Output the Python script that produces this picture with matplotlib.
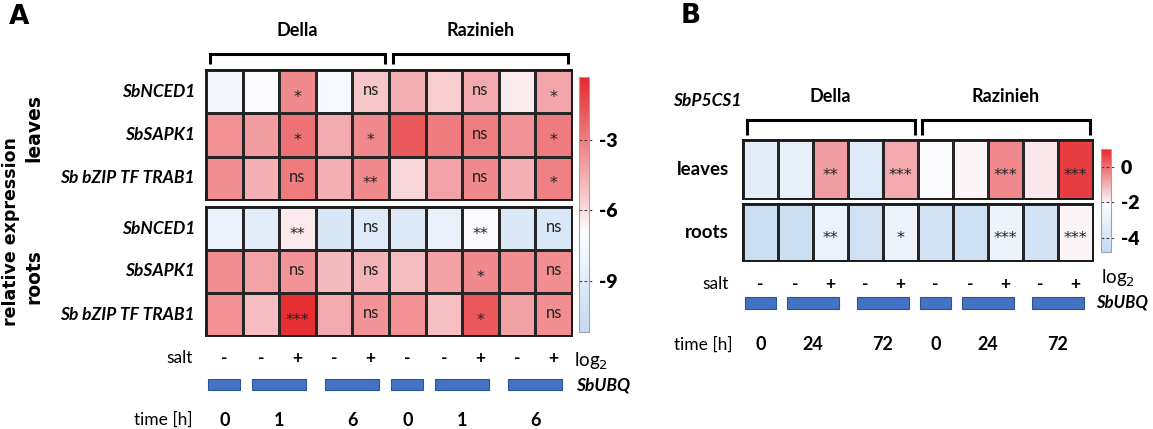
import numpy as np
import matplotlib
matplotlib.use('Agg')
import matplotlib.pyplot as plt
from matplotlib.colors import LinearSegmentedColormap, Normalize
from matplotlib.cm import ScalarMappable
from matplotlib.transforms import blended_transform_factory

plt.rcParams['font.family'] = ['Lato', 'DejaVu Sans']
plt.rcParams['axes.unicode_minus'] = False

# ---- data (log2 relative expression) ----
cultivars = ['Della', 'Razinieh']
genes_a = ['SbNCED1', 'SbSAPK1', 'Sb bZIP TF TRAB1']
salt = ['-', '-', '+', '-', '+', '-', '-', '+', '-', '+']
group_sizes = [1, 2, 2, 1, 2, 2]
time_a = ['0', '1', '6', '0', '1', '6']
time_b = ['0', '24', '72', '0', '24', '72']

a_leaves = np.array([
    [-7.6, -7.0, -3.4, -7.5, -5.3, -4.6, -5.5, -4.4, -6.4, -4.3],
    [-3.6, -4.0, -2.6, -4.4, -3.4, -1.8, -2.9, -3.0, -3.7, -2.9],
    [-3.5, -4.6, -2.9, -4.6, -3.4, -5.8, -4.2, -3.4, -4.6, -3.1],
])
a_roots = np.array([
    [-8.2, -8.8, -6.4, -9.6, -9.2, -9.3, -8.4, -7.1, -9.4, -9.5],
    [-3.5, -4.2, -3.7, -4.9, -4.7, -5.0, -4.1, -3.4, -3.5, -3.5],
    [-3.6, -5.0, -0.5, -4.4, -3.7, -3.6, -5.1, -1.8, -4.1, -3.5],
])
a_leaves_sig = [
    ['', '', '*', '', 'ns', '', '', 'ns', '', '*'],
    ['', '', '*', '', '*', '', '', 'ns', '', '*'],
    ['', '', 'ns', '', '**', '', '', 'ns', '', '*'],
]
a_roots_sig = [
    ['', '', '**', '', 'ns', '', '', '**', '', 'ns'],
    ['', '', 'ns', '', 'ns', '', '', '*', '', 'ns'],
    ['', '', '***', '', 'ns', '', '', '*', '', 'ns'],
]

b_leaves = np.array([[-3.3, -3.1, -0.7, -3.5, -0.9, -2.1, -2.0, -0.4, -1.8, 0.7]])
b_roots = np.array([[-4.5, -4.4, -2.9, -4.2, -2.8, -4.1, -4.3, -2.8, -4.1, -2.0]])
b_leaves_sig = [['', '', '**', '', '***', '', '', '***', '', '***']]
b_roots_sig = [['', '', '**', '', '*', '', '', '***', '', '***']]

# ---- layout helpers (figure pixels) ----
W, H = 1153, 429
fig = plt.figure(figsize=(W / 100, H / 100), dpi=100)


def box(l, t, r, b):
    return [l / W, 1 - b / H, (r - l) / W, (b - t) / H]


def fy(y):
    return 1 - y / H


BLUE, WHITE, RED = '#C3DAF0', '#FCFCFF', '#E6292D'


def make_cmap(vmin, vmid, vmax):
    p = (vmid - vmin) / (vmax - vmin)
    return LinearSegmentedColormap.from_list('c', [(0, BLUE), (p, WHITE), (1, RED)])


def heat(ax, vals, sig, cmap, norm):
    nr, nc = vals.shape
    ax.pcolormesh(np.arange(nc + 1), np.arange(nr + 1), vals, cmap=cmap, norm=norm,
                  edgecolors='#262626', linewidth=0.9)
    ax.set_xlim(0, nc)
    ax.set_ylim(nr, 0)
    ax.set_xticks([])
    ax.set_yticks([])
    for s in ax.spines.values():
        s.set_linewidth(1.4)
        s.set_color('#1a1a1a')
    for r in range(nr):
        for c in range(nc):
            s = sig[r][c]
            if not s:
                continue
            if '*' in s:
                ax.annotate(s, (c + 0.5, r + 0.5), xytext=(0, -4), textcoords='offset points',
                            ha='center', va='center', fontsize=11.5, color='#222222',
                            family='DejaVu Sans')
            else:
                ax.annotate(s, (c + 0.5, r + 0.5), xytext=(0, 1), textcoords='offset points',
                            ha='center', va='center', fontsize=12, color='#222222')


def brackets(ax, y_top, y_tip):
    tr = blended_transform_factory(ax.transData, fig.transFigure)
    for i, name in enumerate(cultivars):
        x0, x1 = i * 5 + 0.12, i * 5 + 4.9
        ax.plot([x0, x0, x1, x1], [fy(y_tip), fy(y_top), fy(y_top), fy(y_tip)],
                color='black', lw=2.2, transform=tr, clip_on=False,
                solid_capstyle='butt', solid_joinstyle='miter')


def group_labels(ax, y_text):
    tr = blended_transform_factory(ax.transData, fig.transFigure)
    for i, name in enumerate(cultivars):
        ax.text(i * 5 + 2.5, fy(y_text), name, transform=tr, ha='center', va='center',
                fontsize=13, fontweight='bold')


def bottom_rows(ax, times, y_salt, bar_lo, bar_hi, y_time, label_x, time_x):
    tr = blended_transform_factory(ax.transData, fig.transFigure)
    ax.text(label_x, fy(y_salt), 'salt', transform=tr, ha='right', va='center', fontsize=12.5)
    for c, s in enumerate(salt):
        ax.text(c + 0.5, fy(y_salt), s, transform=tr, ha='center', va='center',
                fontsize=12.5, fontweight='bold')
    starts = np.cumsum([0] + group_sizes[:-1])
    centers = starts + np.array(group_sizes) / 2
    widths = [0.88 if g == 1 else 1.48 for g in group_sizes]
    ax.bar(centers, bar_hi - bar_lo, width=widths, bottom=bar_lo, color='#4472C4',
           edgecolor='#2F5597', linewidth=0.8, clip_on=False)
    ax.text(time_x, fy(y_time), 'time [h]', transform=tr, ha='right', va='center', fontsize=12.5)
    for xc, t in zip(centers, times):
        ax.text(xc, fy(y_time), t, transform=tr, ha='center', va='center',
                fontsize=13, fontweight='bold')


def colorbar(rect, cmap, norm, ticks):
    cax = fig.add_axes(rect)
    cb = fig.colorbar(ScalarMappable(norm=norm, cmap=cmap), cax=cax)
    cb.outline.set_edgecolor('#9aa4b0')
    cb.outline.set_linewidth(0.8)
    cax.set_yticks(ticks, labels=[str(t) for t in ticks], fontsize=14, fontweight='heavy')
    cax.tick_params(length=0, pad=7)
    tr = cax.get_yaxis_transform()
    for t in ticks:
        cax.plot([0, 1.35], [t, t], transform=tr, color='#444444', lw=0.8,
                 ls=(0, (2.5, 2)), clip_on=False)
    return cax


# ---- panel A ----
norm_a = Normalize(-11.2, -0.3)
cmap_a = make_cmap(-11.2, -7.0, -0.3)
ax_al = fig.add_axes(box(206, 70, 572, 200))
ax_ar = fig.add_axes(box(206, 207, 572, 336))
heat(ax_al, a_leaves, a_leaves_sig, cmap_a, norm_a)
heat(ax_ar, a_roots, a_roots_sig, cmap_a, norm_a)
for ax in (ax_al, ax_ar):
    for r, g in enumerate(genes_a):
        ax.text(-0.3, r + 0.5, g, ha='right', va='center', fontsize=12.5,
                fontweight='bold', style='italic')
brackets(ax_al, 54, 64)
group_labels(ax_al, 31)
# rows in data units of the roots block (3 rows, 43 px each)
bottom_rows(ax_ar, time_a, 358, 4.0, 4.26, 420, -0.36, -0.36)
ax_ar.text(10.05, 3.6, 'log$_2$', ha='left', va='center', fontsize=13.5)
ax_ar.text(10.12, 4.14, 'SbUBQ', ha='left', va='center', fontsize=12.5,
           fontweight='bold', style='italic')
colorbar(box(579, 77, 589, 332), cmap_a, norm_a, [-3, -6, -9])

fig.text(11 / W, fy(232), 'relative expression', rotation=90, ha='center', va='center',
         fontsize=12.5, fontweight='bold', family='DejaVu Sans')
fig.text(34 / W, fy(128), 'leaves', rotation=90, ha='center', va='center',
         fontsize=13.5, fontweight='bold', family='DejaVu Sans')
fig.text(34 / W, fy(277), 'roots', rotation=90, ha='center', va='center',
         fontsize=13.5, fontweight='bold', family='DejaVu Sans')
fig.text(19 / W, fy(17), 'A', ha='center', va='center', fontsize=19,
         fontweight='bold', family='DejaVu Sans')

# ---- panel B ----
norm_b = Normalize(-4.8, 1.0)
cmap_b = make_cmap(-4.8, -2.1, 1.0)
ax_bl = fig.add_axes(box(743, 140, 1093, 199))
ax_br = fig.add_axes(box(743, 204, 1093, 261))
heat(ax_bl, b_leaves, b_leaves_sig, cmap_b, norm_b)
heat(ax_br, b_roots, b_roots_sig, cmap_b, norm_b)
ax_bl.text(-0.4, 0.5, 'leaves', ha='right', va='center', fontsize=13.5, fontweight='bold')
ax_br.text(-0.4, 0.5, 'roots', ha='right', va='center', fontsize=13.5, fontweight='bold')
brackets(ax_bl, 120, 135)
group_labels(ax_bl, 96)
fig.text(742 / W, fy(101), 'SbP5CS1', ha='right', va='center', fontsize=12.5,
         fontweight='bold', style='italic')
bottom_rows(ax_br, time_b, 284, 1.63, 1.84, 345, -0.4, -0.31)
ax_br.text(10.22, 1.3, 'log$_2$', ha='left', va='center', fontsize=13.5)
ax_br.text(10.1, 1.72, 'SbUBQ', ha='left', va='center', fontsize=12,
           fontweight='bold', style='italic')
colorbar(box(1101, 149, 1111, 252), cmap_b, norm_b, [0, -2, -4])
fig.text(691 / W, fy(16), 'B', ha='center', va='center', fontsize=19,
         fontweight='bold', family='DejaVu Sans')

fig.savefig('out.png', dpi=100)
